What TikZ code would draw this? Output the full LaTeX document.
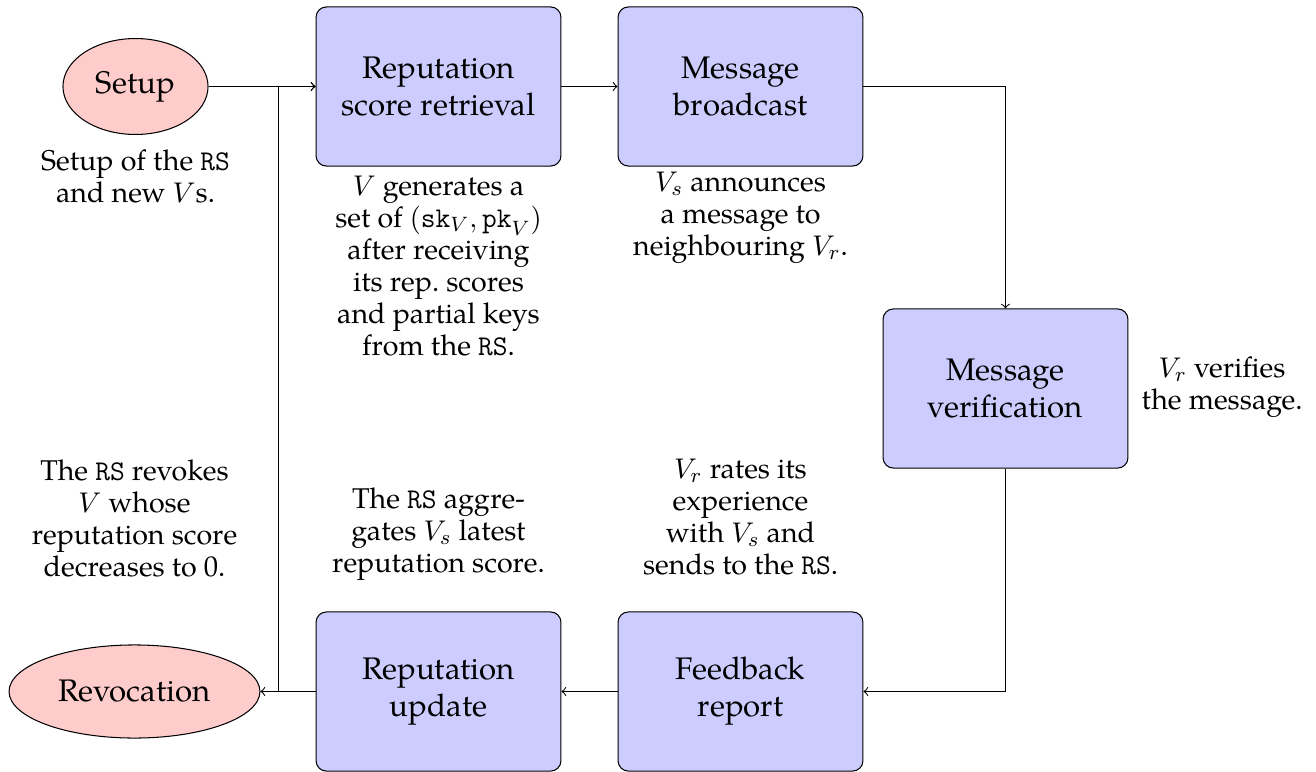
\documentclass[tikz,border=0pt]{standalone}
\usepackage{fontspec}
\setmainfont{TeX Gyre Pagella}
\usetikzlibrary{shapes.geometric}
\definecolor{boxblue}{RGB}{204,204,255}
\definecolor{ovalpink}{RGB}{255,204,204}
\begin{document}
\begin{tikzpicture}[x=0.3846pt,y=-0.3846pt,
  stepbox/.style={draw, fill=boxblue, rounded corners=4pt, minimum width=94.2pt, minimum height=61.2pt, align=center, font=\fontsize{12}{14.2}\selectfont, inner sep=2pt},
  oval/.style={draw, fill=ovalpink, ellipse, align=center, font=\fontsize{12}{14.2}\selectfont, inner sep=1pt},
  desc/.style={align=center, inner sep=0pt, font=\fontsize{11}{12.3}\selectfont},
  conn/.style={->}]
\useasboundingbox (0,0) rectangle (1316,772);
\node[oval, minimum width=55.8pt, minimum height=36.9pt] (setup) at (135.5,86.5) {Setup};
\node[oval, minimum width=96.5pt, minimum height=35.8pt] (revoc) at (134.5,691.5) {Revocation};
\node[stepbox] (retr) at (438.5,86.5) {Reputation\\score retrieval};
\node[stepbox] (bcast) at (740.5,86.5) {Message\\broadcast};
\node[stepbox] (verif) at (1005.5,388.5) {Message\\verification};
\node[stepbox] (upd) at (438.5,691.5) {Reputation\\update};
\node[stepbox] (fback) at (740.5,691.5) {Feedback\\report};

\node[desc] (dsetup) at (135.5,176) {Setup of the \texttt{RS}\\and new $V$s.};
\node[desc] (dretr) at (438.5,266) {$V$ generates a\\set of $(\mathtt{sk}_V,\mathtt{pk}_V)$\\after receiving\\its rep.\ scores\\and partial keys\\from the \texttt{RS}.};
\node[desc] (dbcast) at (740.5,218) {$V_s$ announces\\a message to\\neighbouring $V_r$.};
\node[desc] (dverif) at (1222,387) {$V_r$ verifies\\the message.};
\node[desc] (dfback) at (740.5,517) {$V_r$ rates its\\experience\\with $V_s$ and\\sends to the \texttt{RS}.};
\node[desc] (dupd) at (438.5,534) {The \texttt{RS} aggre-\\gates $V_s$ latest\\reputation score.};
\node[desc] (drevoc) at (134.5,518) {The \texttt{RS} revokes\\$V$ whose\\reputation score\\decreases to 0.};

\coordinate (junc) at (278.5,691.5);
\draw[conn] (setup.east) -- (retr.west);
\draw[conn] (retr.east) -- (bcast.west);
\draw[conn] (bcast.east) -| (verif.north);
\draw[conn] (verif.south) |- (fback.east);
\draw[conn] (fback.west) -- (upd.east);
\draw[conn] (upd.west) -- (revoc.east);
\draw[conn] (junc) |- (retr.west);
\end{tikzpicture}
\end{document}
